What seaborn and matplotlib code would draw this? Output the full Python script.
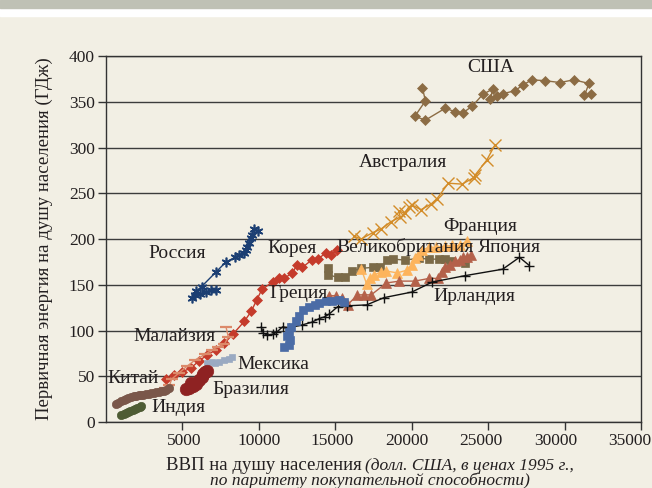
import matplotlib
matplotlib.use("Agg")
import matplotlib.pyplot as plt
import seaborn as sns
from matplotlib.patches import Rectangle
from matplotlib.transforms import ScaledTranslation

# ---- data (GDP per capita, primary energy per capita) ----
usa_x = [20700, 20900, 20200, 20900, 22200, 22850, 23350, 23950, 24650, 25300, 25150, 25550,
         26000, 26750, 27250, 27850, 28750, 29700, 30600, 31600, 31300, 31700]
usa_y = [365, 351, 334, 330, 343, 339, 338, 345, 358, 364, 353, 356,
         359, 362, 368, 374, 373, 371, 374, 370, 357, 359]

aus_x = [16250, 16700, 17450, 18000, 18650, 19250, 19150, 19550, 19800, 20050, 20600, 21250,
         21650, 22400, 23300, 24050, 24150, 24900, 25450]
aus_y = [203, 200, 207, 211, 219, 224, 231, 228, 235, 237, 232, 238,
         244, 261, 260, 267, 270, 286, 303]

fra_x = [16700, 17050, 17250, 17550, 18000, 18350, 19050, 19700, 20050, 20200, 20400, 20700,
         21150, 21600, 22150, 22650, 23150, 23600]
fra_y = [167, 151, 157, 161, 164, 165, 163, 166, 172, 179, 182, 188,
         191, 191, 192, 193, 193, 198]

uk_x = [14550, 14550, 15150, 15650, 16100, 16700, 17450, 17950, 18400, 18800, 19550, 20500,
        21150, 21800, 22200, 22600, 23500]
uk_y = [168, 161, 158, 158, 165, 168, 169, 169, 177, 178, 177, 179,
        178, 178, 178, 176, 174]

jpn_x = [14600, 15050, 15450, 15800, 16450, 16900, 17350, 18350, 19200, 20200, 21150, 21700,
         22000, 22150, 22500, 22800, 23150, 23350, 23600, 23900]
jpn_y = [138, 138, 135, 128, 139, 139, 139, 152, 154, 154, 157, 157,
         164, 169, 172, 176, 177, 180, 180, 182]

irl_x = [10150, 10300, 10550, 10900, 11150, 11550, 12000, 12800, 13450, 13950, 14300, 14600,
         15150, 15750, 17050, 18200, 20000, 21350, 23500, 25950, 27050, 27700]
irl_y = [104, 97, 95, 96, 98, 104, 103, 106, 109, 113, 115, 118,
         126, 127, 128, 136, 142, 153, 160, 167, 180, 171]

gre_x = [11650, 12000, 12050, 11850, 12000, 12100, 12400, 12650, 12900, 13300, 13650, 13950,
         14400, 14800, 15250, 15600]
gre_y = [82, 84, 90, 94, 98, 104, 110, 116, 122, 126, 128, 130,
         132, 132, 133, 131]

kor_x = [3900, 4450, 5000, 5550, 6100, 6600, 7200, 7750, 8300, 9050, 9500, 9850,
         10200, 10900, 11350, 11650, 12200, 12500, 12850, 13450, 13850, 14400, 14700, 15100]
kor_y = [47, 51, 55, 59, 67, 73, 79, 86, 96, 110, 121, 133,
         145, 153, 157, 157, 163, 172, 169, 177, 178, 185, 182, 188]

mys_x = [3850, 4150, 4300, 4800, 5300, 5850, 6500, 6950, 7300, 7750, 8000, 7850]
mys_y = [37, 40, 47, 54, 61, 68, 74, 79, 82, 85, 93, 104]

mex_x = [6600, 6950, 7150, 7400, 7750, 8050, 8250]
mex_y = [64, 66, 64, 66, 68, 69, 71]

bra_x = [5250, 5450, 5700, 5550, 5900, 6100, 6300, 6350, 6500, 6600]
bra_y = [36, 37, 39, 43, 42, 46, 49, 52, 55, 56]

chn_x = [650, 800, 1000, 1150, 1300, 1450, 1650, 1800, 1950, 2150, 2300, 2450,
         2600, 2800, 2950, 3150, 3300, 3450, 3600, 3800, 3950, 4100]
chn_y = [20, 21, 23, 24, 25, 26, 27, 28, 28, 29, 30, 30,
         31, 31, 32, 32, 33, 33, 34, 34, 35, 37]

ind_x = [1000, 1150, 1300, 1450, 1600, 1750, 1900, 2050, 2200, 2300]
ind_y = [8, 9, 10, 11, 12, 13, 14, 15, 16, 17]

rus_x = [9950, 9700, 9550, 9500, 9350, 9250, 9150, 9050, 8700, 8450, 7850, 7200,
         6250, 5900, 5650, 5850, 6150, 6550, 6900, 7200]
rus_y = [209, 211, 204, 201, 196, 191, 188, 185, 183, 180, 175, 164,
         148, 143, 136, 139, 140, 142, 144, 144]

labels = ["США", "Австралия", "Франция", "Великобритания", "Япония", "Ирландия", "Россия",
          "Корея", "Греция", "Малайзия", "Мексика", "Китай", "Бразилия", "Индия"]
label_x = [25150, 19400, 24450, 19550, 26400, 24100, 4650,
           12150, 12600, 4450, 10950, 1750, 9500, 4750]
label_y = [388, 284, 214, 191, 191, 137, 184,
           190, 140, 94, 63, 48, 36, 16]

x_ticks = [5000, 10000, 15000, 20000, 25000, 30000, 35000]
y_ticks = [0, 50, 100, 150, 200, 250, 300, 350, 400]

# ---- style ----
sns.set_theme(style="white")
plt.rcParams["font.family"] = ["Liberation Serif", "DejaVu Serif"]
bg = "#f2efe4"
ink = "#231f20"

fig = plt.figure(figsize=(6.52, 4.88), dpi=100, facecolor=bg)
ax = fig.add_axes([0.1626, 0.1352, 0.8205, 0.75])
ax.set_facecolor(bg)

# top banner
fig.patches.append(Rectangle((0, 1 - 16 / 488), 1, 16 / 488, transform=fig.transFigure,
                             color="white", zorder=0))
fig.patches.append(Rectangle((0, 1 - 8 / 488), 1, 8 / 488, transform=fig.transFigure,
                             color="#bfc1b5", zorder=0))

series = [
    (usa_x, usa_y, "#8c6c44", "D", 5, 0.5),
    (aus_x, aus_y, "#d38c28", "x", 8, 1.0),
    (uk_x, uk_y, "#7b6a48", "s", 6, 0.5),
    (fra_x, fra_y, "#fdb45c", "^", 7, 0.5),
    (jpn_x, jpn_y, "#b4614a", "^", 7, 0.5),
    (irl_x, irl_y, "#111111", "+", 7, 1.0),
    (gre_x, gre_y, "#4b6ca6", "s", 6, 0.5),
    (kor_x, kor_y, "#c53b2b", "D", 5, 0.5),
    (mys_x, mys_y, "#dc8a6a", "_", 9, 1.6),
    (mex_x, mex_y, "#9aaac2", "s", 4, 0.5),
    (bra_x, bra_y, "#8e2222", "o", 9, 0.5),
    (chn_x, chn_y, "#7a574a", "o", 6, 0.5),
    (ind_x, ind_y, "#4e5c34", "o", 6, 0.5),
    (rus_x, rus_y, "#1c3f73", (6, 2, 0), 7, 1.2),
]

for xs, ys, col, mk, ms, mew in series:
    sns.lineplot(x=xs, y=ys, sort=False, estimator=None, ax=ax, color=col, lw=1.0,
                 marker=mk, markersize=ms, markeredgecolor=col, markeredgewidth=mew,
                 zorder=3)

for t, lx, ly in zip(labels, label_x, label_y):
    ax.text(lx, ly, t, ha="center", va="center", fontsize=14, color=ink, zorder=5)

ax.set_xlim(0, 35000)
ax.set_ylim(0, 400)
ax.set_xticks(x_ticks)
ax.set_yticks(y_ticks)
ax.yaxis.grid(True, color="#3c3c3c", lw=1.0)
ax.set_axisbelow(True)
for s in ax.spines.values():
    s.set_color("#333333")
    s.set_linewidth(1.0)
ax.tick_params(axis="both", direction="out", length=6, width=1, color="#333333",
               labelsize=12.5, labelcolor=ink, pad=2, left=True, bottom=True)

# x tick labels drift slightly left of their ticks in the original
shifts = [2, 0, -3, -5, -7, -9, -11]
for lab, dx in zip(ax.get_xticklabels(), shifts):
    lab.set_transform(lab.get_transform() + ScaledTranslation(dx / 100, 0, fig.dpi_scale_trans))

ax.set_ylabel("Первичная энергия на душу населения (ГДж)", fontsize=13.5, color=ink)
ax.yaxis.set_label_coords(-0.1, 0.5)

fig.text(362 / 652, 1 - 466 / 488, "ВВП на душу населения", ha="right", va="center",
         fontsize=13.5, color=ink)
fig.text(365 / 652, 1 - 466 / 488, "(долл. США, в ценах 1995 г.,", ha="left", va="center",
         fontsize=12.5, color=ink, style="italic")
fig.text(370 / 652, 1 - 481 / 488, "по паритету покупательной способности)", ha="center",
         va="center", fontsize=12.5, color=ink, style="italic")

fig.savefig("out.png", dpi=100, facecolor=bg)
